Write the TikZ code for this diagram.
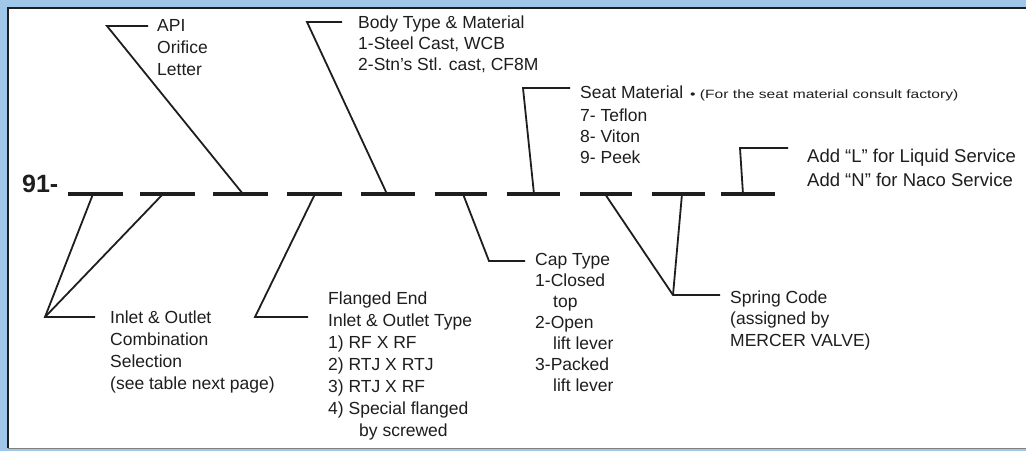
\documentclass[tikz,border=0pt]{standalone}
\usepackage{fontspec}
\setmainfont{Liberation Sans}
\definecolor{bgblue}{RGB}{160,198,234}
\definecolor{ink}{RGB}{30,30,30}
\begin{document}
\begin{tikzpicture}[x=1pt,y=-1pt,
  dashseg/.style={line width=3.2pt, draw=ink},
  leader/.style={line width=1.8pt, draw=ink, line join=miter},
  lbl/.style={anchor=north west, inner sep=0pt, align=left, text=ink},
  fs/.style={font=\fontsize{17.5}{#1}\selectfont}
]
\useasboundingbox (0,0) rectangle (1026,451);
\fill[bgblue] (0,0) rectangle (1026,451);
\fill[white] (8,8) rectangle (1026,448);
\draw[line width=2.5pt, draw=ink] (8,448) -- (8,8) -- (1026,8);
\draw[line width=0.8pt, draw=gray] (8,448) -- (1026,448);

% code prefix
\node[anchor=west, inner sep=0pt, text=ink, font=\fontsize{25}{25}\selectfont\bfseries] (code) at (22,184) {91-};

% dash segments
\foreach \i/\a/\b in {1/68/123,2/140/195,3/213/268,4/287/342,5/361/415,6/435/487,7/507/560,8/580/632,9/652/705,10/721/775}{
  \coordinate (s\i a) at (\a,194);
  \coordinate (s\i b) at (\b,194);
  \draw[dashseg] (s\i a) -- (s\i b);
}

% leader joints
\coordinate (apiB) at (243,194); \coordinate (apiK) at (107,26); \coordinate (apiE) at (148,26);
\coordinate (bodyB) at (387,194); \coordinate (bodyK) at (307,22); \coordinate (bodyE) at (342,22);
\coordinate (seatB) at (534,194); \coordinate (seatK) at (523,88); \coordinate (seatE) at (570,88);
\coordinate (addB) at (743,194); \coordinate (addK) at (740,148); \coordinate (addE) at (788,148);
\coordinate (inB1) at (93,194); \coordinate (inB2) at (163,194); \coordinate (inK) at (45,317); \coordinate (inE) at (95,317);
\coordinate (flB) at (315,194); \coordinate (flK) at (255,317); \coordinate (flE) at (308,317);
\coordinate (capB) at (463,194); \coordinate (capK) at (489,261); \coordinate (capE) at (525,261);
\coordinate (spB1) at (605,194); \coordinate (spB2) at (682,194); \coordinate (spK) at (673,295); \coordinate (spE) at (720,295);

\draw[leader] (apiB) -- (apiK) -- (apiE);
\draw[leader] (bodyB) -- (bodyK) -- (bodyE);
\draw[leader] (seatB) -- (seatK) -- (seatE);
\draw[leader] (addB) -- (addK) -- (addE);
\draw[leader] (inB1) -- (inK) -- (inE);
\draw[leader] (inB2) -- (inK);
\draw[leader] (flB) -- (flK) -- (flE);
\draw[leader] (capB) -- (capK) -- (capE);
\draw[leader] (spB1) -- (spK) -- (spE);
\draw[leader] (spB2) -- (spK);

% labels
\node[lbl, fs=22] (api) at (157,19.5) {API\\Orifice\\Letter};
\node[lbl, fs=21] (body) at (358,15.5) {Body Type \& Material\\1-Steel Cast, WCB\\2-Stn's Stl. cast, CF8M};
\node[lbl, fs=21] (seat) at (580,85.5) {Seat Material\\[2pt]7- Teflon\\8- Viton\\9- Peek};
\node[anchor=base west, inner sep=0pt, text=ink, font=\fontsize{12}{14}\selectfont] (note) at (690,98.5) {\scalebox{1.3}[1]{\textbullet\ (For the seat material consult factory)}};
\node[lbl, font=\fontsize{18.5}{24}\selectfont] (add) at (807,149) {Add ``L'' for Liquid Service\\Add ``N'' for Naco Service};
\node[lbl, fs=22] (inlet) at (110,310.5) {Inlet \& Outlet\\Combination\\Selection\\(see table next page)};
\node[lbl, fs=22] (flange) at (328,291.5) {Flanged End\\Inlet \& Outlet Type\\1) RF X RF\\2) RTJ X RTJ\\3) RTJ X RF\\4) Special flanged\\\hspace*{31pt}by screwed};
\node[lbl, fs=21] (cap) at (535,253.5) {Cap Type\\1-Closed\\\hspace*{18pt}top\\2-Open\\\hspace*{18pt}lift lever\\3-Packed\\\hspace*{18pt}lift lever};
\node[lbl, fs=21.5] (spring) at (730,290.5) {Spring Code\\(assigned by\\MERCER VALVE)};
\end{tikzpicture}
\end{document}
